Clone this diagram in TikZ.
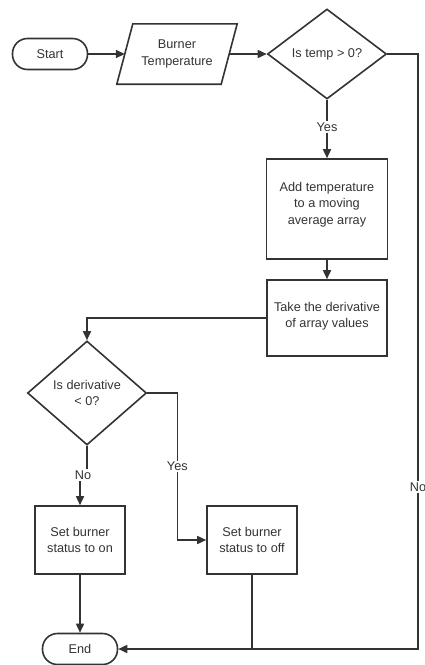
\documentclass[tikz,border=0pt]{standalone}
\usepackage{fontspec}
\setmainfont{Liberation Sans}
\usetikzlibrary{shapes.geometric,arrows.meta,calc}
\definecolor{ink}{HTML}{333333}
\begin{document}
\begin{tikzpicture}[x=1pt,y=-1pt,
  every node/.style={font=\fontsize{12.7}{16.5}\selectfont, text=ink, align=center},
  line/.style={draw=ink, line width=1.6pt},
  flow/.style={line, -{Triangle[length=9pt,width=8pt]}},
  terminal/.style={draw=ink, line width=1.6pt, rectangle, rounded corners=15pt, minimum width=75pt, minimum height=31pt, inner sep=0pt},
  procbox/.style={draw=ink, line width=1.6pt, rectangle, inner sep=0pt},
  decision/.style={draw=ink, line width=1.6pt, diamond, inner sep=0pt},
  edgelabel/.style={fill=white, inner sep=1.5pt}
]
\useasboundingbox (0,0) rectangle (425,665);

% terminals
\node[terminal] (start) at (50,54) {Start};
\node[terminal] (end) at (80,649) {End};

% input (parallelogram drawn around the node)
\node[minimum width=104pt, minimum height=60pt, inner sep=0pt] (para) at (177,54) {Burner\\Temperature};
\draw[line] ($(para.south west)+(-8,0)$) -- ($(para.north west)+(8,0)$)
  -- ($(para.north east)+(8,0)$) -- ($(para.south east)+(-8,0)$) -- cycle;

% decisions
\node[decision, minimum width=119pt, minimum height=90pt] (d1) at (327,54) {Is temp > 0?};
\node[decision, minimum width=119pt, minimum height=104pt] (d2) at (87,393) {Is derivative\\< 0?};

% processes (a short trailing line lifts the text a little)
\node[procbox, minimum width=121pt, minimum height=100pt] (addavg) at (327,209) {Add temperature\\to a moving\\average array\\[-4.5pt]};
\node[procbox, minimum width=120pt, minimum height=76pt] (deriv) at (327,318) {Take the derivative\\of array values\\[-10.5pt]};
\node[procbox, minimum width=90pt, minimum height=68pt] (on) at (80,540) {Set burner\\status to on};
\node[procbox, minimum width=90pt, minimum height=68pt] (off) at (252,540) {Set burner\\status to off};

% right-hand return rail
\coordinate (rail) at (418,0);

% connectors
\draw[flow] (start.east) -- (para.west);
\draw[flow] (para.east) -- (d1.west);
\draw[flow] (d1.south) -- (addavg.north) node[edgelabel, pos=0.47] {Yes};
\draw[flow] (addavg.south) -- (deriv.north);
\draw[flow] (deriv.west) -| (d2.north);
\draw[flow] (d2.east) -- ++(30,0) |- (off.west) node[edgelabel, pos=0.25] {Yes};
\draw[flow] (d2.south) -- ++(0,30) -| (on.north);
\node[edgelabel] (nolab) at (83,475) {No};
\draw[flow] (on.south) -- (end.north);
\draw[line] (off.south) -- (off.south |- end.east);
\draw[flow] (d1.east) -| (rail |- end.east) -- (end.east);
\node[edgelabel] (railno) at (418,487) {No};
\end{tikzpicture}
\end{document}
